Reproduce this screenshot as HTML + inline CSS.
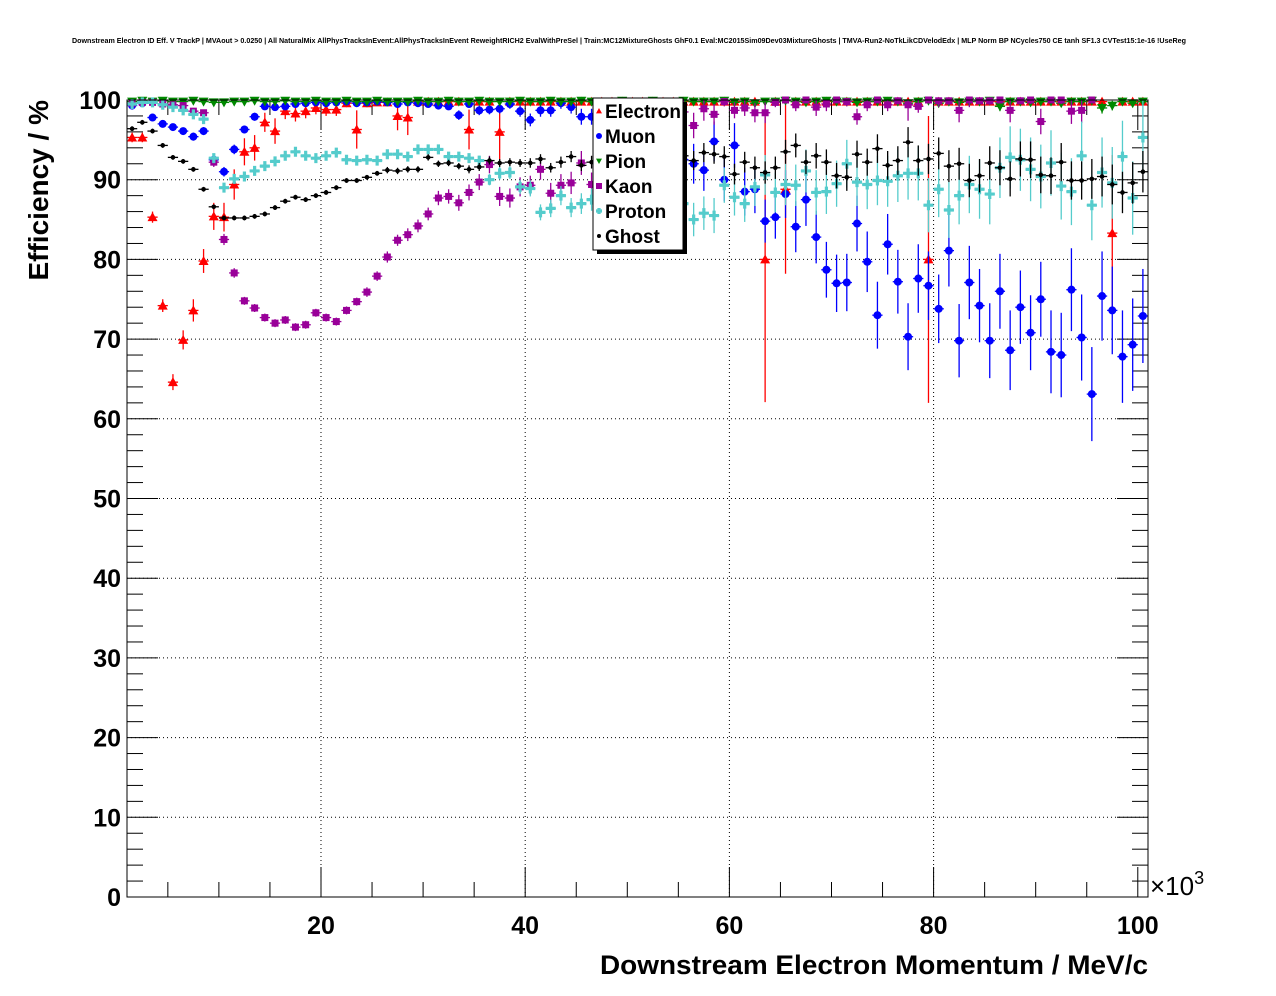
<!DOCTYPE html>
<html><head><meta charset="utf-8"><style>
body{margin:0;background:#fff;}
svg{display:block;font-family:"Liberation Sans",Arial,sans-serif;}
</style></head><body>
<svg id="chart" width="1276" height="996" viewBox="0 0 1276 996">
<rect width="1276" height="996" fill="#fff"/>
<text x="72" y="43" font-size="7" font-weight="bold" textLength="1114" lengthAdjust="spacingAndGlyphs">Downstream Electron ID Eff. V TrackP | MVAout &gt; 0.0250 | All NaturalMix AllPhysTracksInEvent:AllPhysTracksInEvent ReweightRICH2 EvalWithPreSel | Train:MC12MixtureGhosts GhF0.1 Eval:MC2015Sim09Dev03MixtureGhosts | TMVA-Run2-NoTkLikCDVelodEdx | MLP Norm BP NCycles750 CE tanh SF1.3 CVTest15:1e-16 !UseReg</text>
<defs><clipPath id="pc"><rect x="127" y="96" width="1021" height="801"/></clipPath></defs>
<g id="grid"></g>
<g id="axes"></g>
<g id="series" clip-path="url(#pc)"></g>
<rect x="127" y="100" width="1021" height="797" fill="none" stroke="#000" stroke-width="1"/>
<text x="1148" y="974" font-size="27" font-weight="bold" text-anchor="end" textLength="548" lengthAdjust="spacingAndGlyphs">Downstream Electron Momentum / MeV/c</text>
<text transform="translate(48,100) rotate(-90)" font-size="28" font-weight="bold" text-anchor="end">Efficiency / %</text>
<text x="1150" y="895" font-size="26">×10<tspan dy="-11" font-size="18">3</tspan></text>
<g id="legend"></g>
</svg>
<script>
const binCenters = Array.from({length:100},(_,i)=>1.5+i);
const yTicks = [0,10,20,30,40,50,60,70,80,90,100];
const xTicks = [20,40,60,80,100];
const seriesNames = ["Electron","Muon","Pion","Kaon","Proton","Ghost"];

const electron = [95.3,95.3,85.3,74.2,64.6,69.9,73.6,79.8,85.4,85.3, 89.4,93.5,94.0,97.2,96.1,98.6,98.3,98.6,99.0,98.8, 98.8,99.6,96.3,99.6,99.7,99.7,98.0,97.8,99.8,99.8, 99.8,99.8,99.8,96.3,99.8,99.8,96.0,99.8,99.8,99.8,
99.8,99.8,99.8,99.8,99.8,99.8,99.8,99.8,99.8,99.8, 99.8,99.8,99.8,99.8,99.8,99.8,99.8,99.8,99.8,99.8, 99.8,99.8,80.0,99.8,88.8,99.8,99.8,99.8,99.8,99.8, 99.8,99.8,99.8,99.8,99.8,99.8,99.8,99.8,80.0,99.8, 99.8,99.8,99.8,99.8,99.8,99.8,99.8,99.8,99.8,99.8, 99.8,99.8,99.8,99.8,99.8,99.8,83.3,99.8,99.8,99.8];
const electronErr = [0.6,0.6,0.7,0.8,1.0,1.2,1.4,1.5,1.7,1.8, 1.9,1.7,1.6,1.2,1.6,1.0,1.0,0.9,0.8,0.8, 0.8,0.5,2.4,0.5,0.4,0.4,1.8,2.2,0.3,0.3, 0.3,0.3,0.3,2.5,0.3,0.3,3.5,0.3,0.3,0.3,
0.4,0.4,0.4,0.4,0.4,0.4,0.4,0.4,0.4,0.4, 0.4,0.4,0.4,0.4,0.4,0.4,0.4,0.4,0.4,0.4, 0.4,0.4,17.9,0.4,10.6,0.4,0.4,0.4,0.4,0.4, 0.4,0.4,0.4,0.4,0.4,0.4,0.4,0.4,18.0,0.4, 0.4,0.4,0.4,0.4,0.4,0.4,0.4,0.4,0.4,0.4, 0.4,0.4,0.4,0.4,0.4,0.4,9.8,0.4,0.4,0.4];

const muon = [99.3,99.6,97.8,97.0,96.6,96.1,95.4,96.1,92.5,91.0, 93.8,96.3,97.9,99.2,99.1,99.2,99.5,99.6,99.7,99.6, 99.7,99.8,99.6,99.7,99.8,99.7,99.5,99.7,99.6,99.5, 99.3,99.2,98.1,99.5,98.7,98.8,98.9,99.5,98.6,97.5, 98.7,98.7,99.6,99.1,97.9,97.9,97.0,96.0,95.5,95.0, 94.5,94.0,93.5,93.0,92.5,
92.0,91.2,94.8,90.0,94.3,88.5,88.8,84.8,85.3,88.2, 84.1,87.5,82.8,78.7,77.0,77.1,84.5,79.7,73.0,81.9, 77.2,70.3,77.6,76.7,73.8,81.1,69.8,77.1,74.2,69.8, 76.0,68.6,74.0,70.8,75.0,68.4,68.0,76.2,70.2,63.1, 75.4,73.6,67.8,69.3,72.9];
const muonErr = [0.3,0.3,0.4,0.4,0.4,0.4,0.5,0.5,0.6,0.6, 0.6,0.5,0.5,0.4,0.4,0.4,0.4,0.3,0.3,0.3, 0.3,0.3,0.3,0.3,0.3,0.3,0.3,0.3,0.3,0.3, 0.3,0.3,0.6,0.5,0.6,0.6,0.6,0.6,0.7,0.8, 0.8,0.8,0.7,0.8,1.0,1.0,1.2,1.3,1.4,1.5, 1.6,1.7,1.8,1.9,2.0,
2.5,2.6,2.5,2.7,2.8,3.0,3.0,2.7,2.7,3.0, 3.2,3.3,3.3,3.5,3.6,3.6,3.5,3.8,4.2,3.8, 4.0,4.2,4.3,4.3,4.3,4.5,4.6,4.6,4.6,4.7, 4.7,5.0,4.6,4.7,4.7,5.2,5.3,5.2,5.4,5.9, 5.6,5.5,5.8,5.8,5.9];

const pion = [99.8,99.9,99.8,99.9,99.8,99.8,99.9,99.8,99.7,99.7, 99.8,99.8,99.9,99.8,99.8,99.9,99.8,99.8,99.9,99.8, 99.8,99.9,99.8,99.8,99.9,99.8,99.8,99.8,99.9,99.8, 99.8,99.9,99.8,99.8,99.9,99.8,99.8,99.8,99.9,99.8, 99.8,99.9,99.8,99.8,99.9,99.8,99.8,99.8,99.9,99.8, 99.8,99.9,99.8,99.8,99.9,99.8,99.8,99.8,99.9,99.7, 99.8,99.6,99.8,99.8,99.9,99.8,99.7,99.8,99.9,99.8, 99.8,99.7,99.8,99.8,99.9,99.8,99.6,99.8,99.9,99.6, 99.8,99.7,99.8,99.8,99.9,99.2,99.8,99.8,99.7,99.8, 99.8,99.6,99.8,99.8,99.9,99.0,99.3,99.8,99.6,99.8];
const pionErr = [0.2,0.2,0.2,0.2,0.2,0.2,0.2,0.2,0.2,0.2, 0.2,0.2,0.2,0.2,0.2,0.2,0.2,0.2,0.2,0.2, 0.2,0.2,0.2,0.2,0.2,0.2,0.2,0.2,0.2,0.2, 0.2,0.2,0.2,0.2,0.2,0.2,0.2,0.2,0.2,0.2, 0.2,0.2,0.2,0.2,0.2,0.2,0.2,0.2,0.2,0.2, 0.2,0.2,0.2,0.2,0.2,0.2,0.2,0.2,0.2,0.3, 0.2,0.3,0.2,0.2,0.2,0.2,0.3,0.2,0.2,0.2, 0.2,0.3,0.2,0.2,0.2,0.2,0.3,0.2,0.2,0.3, 0.2,0.3,0.2,0.2,0.2,0.6,0.2,0.2,0.3,0.2, 0.2,0.3,0.2,0.2,0.2,0.7,0.6,0.2,0.3,0.2];

const kaon = [99.6,99.7,99.7,99.5,99.4,99.3,98.6,98.4,92.2,82.5, 78.3,74.8,73.9,72.7,72.0,72.4,71.5,71.8,73.3,72.7, 72.2,73.6,74.7,75.9,77.9,80.3,82.4,83.1,84.2,85.7, 87.7,87.9,87.1,88.4,89.7,91.9,87.9,87.7,89.1,89.3, 91.3,88.3,89.3,89.6,92.1,89.4,92.5,95.0,96.5,97.0, 97.5,97.5,98.0,98.0,98.5,
96.8,98.9,98.2,99.8,98.7,99.0,98.4,98.4,99.7,100, 99.4,100,99.1,99.5,100,99.8,97.9,99.4,100,99.4, 99.9,99.4,99.2,100,99.9,99.9,98.7,100,99.9,99.9, 100,98.7,99.9,100,97.3,100,100,98.6,98.7,100];
const kaonErr = [0.2,0.2,0.2,0.2,0.2,0.2,0.2,0.2,0.6,0.7, 0.6,0.5,0.5,0.5,0.5,0.5,0.5,0.5,0.5,0.5, 0.5,0.5,0.5,0.6,0.6,0.7,0.7,0.8,0.8,0.8, 0.9,0.9,1.0,1.0,1.0,1.1,1.2,1.2,1.2,1.2, 1.3,1.3,1.4,1.4,1.5,1.5,1.5,1.5,1.5,1.5, 1.5,1.5,1.5,1.5,1.5,
1.6,1.5,1.3,0.6,1.0,1.0,1.2,1.3,0.6,0.4, 0.8,0.4,1.1,0.9,0.4,0.6,1.0,0.8,0.4,0.8, 0.4,2.0,0.8,0.4,0.8,0.5,1.5,0.9,0.4,0.5, 0.4,1.5,0.4,0.5,1.6,0.4,0.5,1.6,1.6,0.4];

const proton = [99.5,99.7,99.7,99.4,99.1,98.7,98.2,97.6,92.7,89.0, 90.1,90.4,91.1,91.7,92.3,93.0,93.5,93.0,92.7,93.0, 93.4,92.5,92.4,92.5,92.4,93.2,93.2,92.9,93.8,93.8, 93.8,92.9,92.9,92.7,92.4,90.0,90.8,90.9,89.1,88.9, 85.9,86.4,88.0,86.5,87.0,87.5,87.5,86.0,87.0,88.0, 87.5,86.0,86.5,88.0,87.0,
85.0,85.8,85.5,89.3,87.8,87.0,89.1,90.6,88.4,89.4, 89.3,91.1,88.4,88.5,89.5,92.0,89.7,89.4,89.9,89.8, 90.5,90.8,90.8,86.8,88.8,86.2,88.0,89.4,88.8,88.2, 91.5,92.8,92.5,91.3,90.4,92.1,89.2,88.5,93.0,86.8, 90.9,89.6,92.9,87.7,95.3];
const protonErr = [0.2,0.2,0.2,0.2,0.2,0.2,0.2,0.2,0.3,0.3, 0.3,0.3,0.3,0.3,0.3,0.3,0.3,0.3,0.3,0.3, 0.3,0.3,0.3,0.3,0.3,0.3,0.3,0.3,0.3,0.3, 0.3,0.4,0.5,0.5,0.6,0.7,0.8,0.8,0.9,1.0, 1.0,1.1,1.2,1.2,1.3,1.4,1.4,1.5,1.5,1.6, 1.7,1.8,1.8,1.9,2.0,
2.1,2.1,2.2,2.2,2.3,2.3,2.4,2.5,2.5,2.6, 2.6,2.7,2.8,2.8,2.9,3.0,3.0,3.1,3.1,3.2, 3.3,3.3,3.4,3.4,3.5,3.5,3.6,3.6,3.7,3.8, 3.8,3.9,3.9,4.0,4.0,4.1,4.2,4.2,4.3,4.4, 4.4,4.5,4.5,4.6,4.6];

const ghost = [96.4,97.2,96.1,94.3,92.8,92.3,91.3,88.8,86.6,85.2, 85.2,85.2,85.4,85.7,86.5,87.3,87.8,87.5,88.0,88.4, 89.0,89.9,89.9,90.3,90.8,91.2,91.1,91.3,91.3,92.8, 92.0,92.1,91.7,91.3,91.6,92.4,92.1,92.2,92.1,92.1, 92.6,91.5,92.2,92.9,91.8,92.2,92.5,92.0,92.3,92.6, 92.0,92.4,91.8,92.0,93.0,
92.4,93.4,93.2,92.9,90.7,92.2,91.5,90.9,91.5,93.5, 94.3,92.2,93.0,92.2,90.5,90.3,93.2,92.2,93.9,91.8, 92.4,94.7,92.4,92.6,93.3,91.7,92.0,89.9,90.5,92.1, 91.5,90.1,92.6,92.5,90.6,90.5,92.2,89.9,89.9,90.1, 90.4,89.4,88.4,89.6,91.0];
const ghostErr = [0.3,0.3,0.3,0.3,0.3,0.3,0.3,0.3,0.3,0.3, 0.3,0.3,0.3,0.3,0.3,0.3,0.3,0.3,0.3,0.3, 0.3,0.3,0.3,0.3,0.3,0.4,0.4,0.4,0.4,0.4, 0.4,0.4,0.4,0.5,0.5,0.5,0.5,0.5,0.5,0.6, 0.6,0.6,0.7,0.7,0.7,0.8,0.8,0.8,0.9,0.9, 1.0,1.0,1.0,1.1,1.1,
1.2,1.2,1.2,1.3,1.3,1.3,1.4,1.4,1.4,1.5, 1.5,1.5,1.6,1.6,1.6,1.7,1.7,1.7,1.8,1.8, 1.8,1.9,1.9,1.9,2.0,2.0,2.0,2.1,2.1,2.1, 2.2,2.2,2.2,2.3,2.3,2.3,2.4,2.4,2.4,2.5, 2.5,2.5,2.6,2.6,2.6];

const NS='http://www.w3.org/2000/svg';
const X0=127,X1=1148,Y0=897,Y1=100,XMIN=1,XMAX=101,YMIN=0,YMAX=100;
function xs(v){return X0+(v-XMIN)/(XMAX-XMIN)*(X1-X0);}
function ys(v){return Y0-(v-YMIN)/(YMAX-YMIN)*(Y0-Y1);}
function mk(tag,attrs,parent){const e=document.createElementNS(NS,tag);for(const k in attrs)e.setAttribute(k,attrs[k]);parent.appendChild(e);return e;}

const grid=document.getElementById('grid'), axes=document.getElementById('axes');
yTicks.forEach(t=>{
  const y=ys(t);
  if(t>0&&t<100){const g=mk('line',{x1:X0,x2:X1,y1:y,y2:y,stroke:'#000','stroke-width':1,'stroke-dasharray':'1,3'},grid);
  
  }
  const l=mk('text',{x:121,y:y+9,'font-size':25,'font-weight':'bold','text-anchor':'end'},axes);
  l.textContent=t;
  
  
  mk('line',{x1:X0,x2:X0+31,y1:y,y2:y,stroke:'#000'},axes);
  mk('line',{x1:X1,x2:X1-31,y1:y,y2:y,stroke:'#000'},axes);
});
for(let v=2;v<100;v+=2){ if(v%10===0)continue; const y=ys(v);
  mk('line',{x1:X0,x2:X0+16,y1:y,y2:y,stroke:'#000'},axes);
  mk('line',{x1:X1,x2:X1-16,y1:y,y2:y,stroke:'#000'},axes);}
xTicks.forEach(t=>{
  const x=xs(t);
  if(t<100){const g=mk('line',{x1:x,x2:x,y1:Y1,y2:Y0,stroke:'#000','stroke-width':1,'stroke-dasharray':'1,3'},grid);
  
  }
  const l=mk('text',{x:x,y:934,'font-size':25,'font-weight':'bold','text-anchor':'middle'},axes);
  l.textContent=t;
  
  
  mk('line',{x1:x,x2:x,y1:Y0,y2:Y0-30,stroke:'#000'},axes);
  mk('line',{x1:x,x2:x,y1:Y1,y2:Y1+30,stroke:'#000'},axes);
});
for(let v=5;v<101;v+=5){ if(v%20===0)continue; const x=xs(v);
  mk('line',{x1:x,x2:x,y1:Y0,y2:Y0-15,stroke:'#000'},axes);
  mk('line',{x1:x,x2:x,y1:Y1,y2:Y1+15,stroke:'#000'},axes);}

function marker(type,color,x,y,p,s){
  let e;
  if(type==='tri-up') e=mk('polygon',{points:`${x},${y-s} ${x-s},${y+s*0.8} ${x+s},${y+s*0.8}`,fill:color},p);
  else if(type==='tri-down') e=mk('polygon',{points:`${x},${y+s} ${x-s},${y-s*0.8} ${x+s},${y-s*0.8}`,fill:color},p);
  else if(type==='circle') e=mk('circle',{cx:x,cy:y,r:s,fill:color},p);
  else if(type==='square') e=mk('rect',{x:x-s,y:y-s,width:2*s,height:2*s,fill:color},p);
  else if(type==='cross') e=mk('path',{d:`M${x-s},${y-1.6}h${s-1.6}v${-s+1.6}h3.2v${s-1.6}h${s-1.6}v3.2h${-s+1.6}v${s-1.6}h-3.2v${-s+1.6}h${-s+1.6}z`,fill:color},p);
  return e;
}
const seriesDefs=[
 {name:'electron',vals:electron,errs:electronErr,color:'#ff0000',m:'tri-up',s:5},
 {name:'muon',vals:muon,errs:muonErr,color:'#0000ff',m:'circle',s:4},
 {name:'pion',vals:pion,errs:pionErr,color:'#008800',m:'tri-down',s:5},
 {name:'kaon',vals:kaon,errs:kaonErr,color:'#990099',m:'square',s:3.5},
 {name:'proton',vals:proton,errs:protonErr,color:'#55cccc',m:'cross',s:5},
 {name:'ghost',vals:ghost,errs:ghostErr,color:'#000000',m:'circle',s:2.3},
];
const sg=document.getElementById('series');
seriesDefs.forEach(d=>{
  const g=mk('g',{},sg);
  
  
  d.vals.forEach((v,i)=>{
    const c=binCenters[i], x=xs(c), y=ys(v);
    const e=d.errs[i];
    const pt=mk('g',{},g);
    
    
    mk('line',{x1:xs(c-0.5),x2:xs(c+0.5),y1:y,y2:y,stroke:d.color,'stroke-width':1.3},pt);
    mk('line',{x1:x,x2:x,y1:ys(Math.min(100,v+e)),y2:ys(v-e),stroke:d.color,'stroke-width':1.3},pt);
    marker(d.m,d.color,x,y,pt,d.s);
  });
});

const lg=document.getElementById('legend');
mk('rect',{x:597,y:102,width:90,height:152,fill:'#000'},lg);
mk('rect',{x:593,y:98,width:90,height:152,fill:'#fff',stroke:'#000','stroke-width':1},lg);
seriesNames.forEach((n,i)=>{
  const d=seriesDefs[i], y=111+i*25;
  const ent=mk('g',{},lg);
  
  
  marker(d.m,d.color,599,y,ent,d.m==='circle'?(i===5?2:3):3);
  const t=mk('text',{x:605,y:y+7,'font-size':19,'font-weight':'bold'},ent);
  t.textContent=n;
});
</script>
</body></html>
